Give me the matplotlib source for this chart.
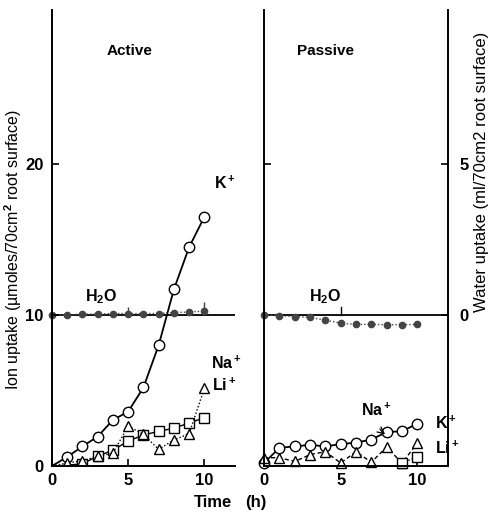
import numpy as np
import matplotlib
matplotlib.use("Agg")
import matplotlib.pyplot as plt

## fonts: bold helvetica-like everywhere, also inside mathtext
plt.rcParams['font.family'] = 'Liberation Sans'
plt.rcParams['font.weight'] = 'bold'
plt.rcParams['mathtext.fontset'] = 'custom'
plt.rcParams['mathtext.rm'] = 'Liberation Sans:bold'
plt.rcParams['mathtext.it'] = 'Liberation Sans:bold'
plt.rcParams['mathtext.bf'] = 'Liberation Sans:bold'

## data (ion uptake in umoles, water in ml)
hours = [0, 1, 2, 3, 4, 5, 6, 7, 8, 9, 10]

act_k = [0, 0.6, 1.3, 1.95, 3.05, 3.6, 5.2, 8.0, 11.7, 14.5, 16.5]
act_na = [0, 0.2, 0.35, 0.65, 0.85, 2.65, 2.1, 1.1, 1.72, 2.15, 5.15]
act_li = [0, 0.05, 0.15, 0.65, 1.05, 1.65, 2.05, 2.3, 2.5, 2.85, 3.2]
act_h2o = [0, 0, 0.03, 0.03, 0.05, 0.05, 0.05, 0.05, 0.08, 0.1, 0.13]

pas_k = [0.2, 1.2, 1.3, 1.4, 1.3, 1.45, 1.55, 1.75, 2.25, 2.3, 2.8]
pas_na = [0.55, 0.55, 0.3, 0.75, 0.95, 0.2, 0.95, 0.25, 1.25, 0.2, 1.5]
pas_li_hours = [9, 10]
pas_li = [0.2, 0.6]
pas_h2o = [0, -0.02, -0.05, -0.08, -0.17, -0.27, -0.31, -0.31, -0.32, -0.32, -0.31]

fig = plt.figure(figsize=(4.89, 5.14), dpi=100)
ax1 = fig.add_axes([0.1063, 0.0934, 0.374, 0.887])
ax2 = fig.add_axes([0.540, 0.0934, 0.376, 0.887])
w1 = ax1.twinx()
w2 = ax2.twinx()

for ax in (ax1, ax2):
    ax.set_xlim(0, 12)
    ax.set_ylim(0, 30.2)
    ax.spines['top'].set_visible(False)
    for s in ax.spines.values():
        s.set_linewidth(1.4)
    ax.set_xticks([0, 5, 10])
    ax.tick_params(direction='in', length=5, width=1.2, labelsize=12, pad=5)
    ax.set_facecolor('none')
for w in (w1, w2):
    w.set_ylim(-5, 10.1)
    w.spines['top'].set_visible(False)
    w.spines['left'].set_visible(False)
    w.spines['bottom'].set_visible(False)
    w.set_zorder(0)

ax1.spines['right'].set_visible(False)
w1.spines['right'].set_visible(False)
w1.set_yticks([])
ax1.set_yticks([0, 10, 20])
ax1.tick_params(axis='y', pad=6)

ax2.spines['right'].set_visible(False)
ax2.set_yticks([20])
ax2.set_yticklabels([])
w2.spines['right'].set_linewidth(1.4)
w2.set_yticks([0, 5])
w2.tick_params(direction='in', length=5, width=1.2, labelsize=12, pad=8)

ax1.set_zorder(2)
ax2.set_zorder(2)

mk = dict(markerfacecolor='white', markeredgecolor='black', markeredgewidth=1.0, color='black')

## active panel
ax1.plot(hours, act_k, marker='o', markersize=7.5, lw=1.3, markevery=range(1, 11), clip_on=False, **mk)
ax1.plot(hours, act_li, marker='s', markersize=6.5, lw=1.0, markevery=range(2, 11), **mk)
ax1.plot(hours, act_na, marker='^', markersize=7, lw=1.0, ls=(0, (1, 1.5)), markevery=range(1, 11), **mk)
w1.axhline(0, color='black', lw=1.3)
w1.plot(hours, act_h2o, marker='o', markersize=4.5, color='#444444', lw=1.0, ls=(0, (1, 1.5)), clip_on=False)
w1.errorbar([5, 10], [act_h2o[5], act_h2o[10]], yerr=[[0, 0], [0.2, 0.3]], fmt='none', ecolor='#444444', elinewidth=1)

## passive panel
ax2.plot(hours, pas_k, marker='o', markersize=7.5, lw=1.3, clip_on=False, **mk)
ax2.plot(hours, pas_na, marker='^', markersize=7, lw=1.0, ls=(0, (3, 2)), clip_on=False, **mk)
ax2.plot(pas_li_hours, pas_li, marker='s', markersize=6.5, lw=1.0, ls=(0, (1, 1.5)), clip_on=False, **mk)
w2.axhline(0, color='black', lw=1.3)
w2.plot(hours, pas_h2o, marker='o', markersize=4.5, color='#444444', lw=1.0, ls=(0, (1, 1.5)), clip_on=False)
w2.plot([5, 5], [0, 0.27], color='black', lw=1.0)

## annotations
ax1.text(5.1, 27.5, 'Active', ha='center', va='center', fontsize=11)
ax1.text(3.2, 11.2, 'H$_2$O', ha='center', va='center', fontsize=11.5)
ax1.text(10.6, 18.7, 'K$^+$', ha='left', va='center', fontsize=11.5)
ax1.text(10.45, 6.8, 'Na$^+$', ha='left', va='center', fontsize=11.5)
ax1.text(10.5, 5.35, 'Li$^+$', ha='left', va='center', fontsize=11.5)

ax2.text(4.0, 27.5, 'Passive', ha='center', va='center', fontsize=11)
ax2.text(3.95, 11.2, 'H$_2$O', ha='center', va='center', fontsize=11.5)
ax2.text(11.15, 2.85, 'K$^+$', ha='left', va='center', fontsize=11.5)
ax2.text(11.15, 1.2, 'Li$^+$', ha='left', va='center', fontsize=11.5)
ax2.annotate('Na$^+$', xy=(7.9, 2.1), xytext=(7.3, 3.7), ha='center', va='center', fontsize=11.5,
             arrowprops=dict(arrowstyle='->', lw=0.9, color='black', shrinkA=6, shrinkB=0,
                             connectionstyle='arc3,rad=0.3'))

fig.text(0.027, 0.514, 'Ion uptake (µmoles/70cm$^2$ root surface)', rotation=90,
         ha='center', va='center', fontsize=11.5, fontweight='normal')
fig.text(0.985, 0.665, 'Water uptake (ml/70cm2 root surface)', rotation=90,
         ha='center', va='center', fontsize=12, fontweight='normal')
fig.text(0.436, 0.023, 'Time', ha='center', va='center', fontsize=12)
fig.text(0.524, 0.023, '(h)', ha='center', va='center', fontsize=12)

plt.savefig('out.png', dpi=100)
